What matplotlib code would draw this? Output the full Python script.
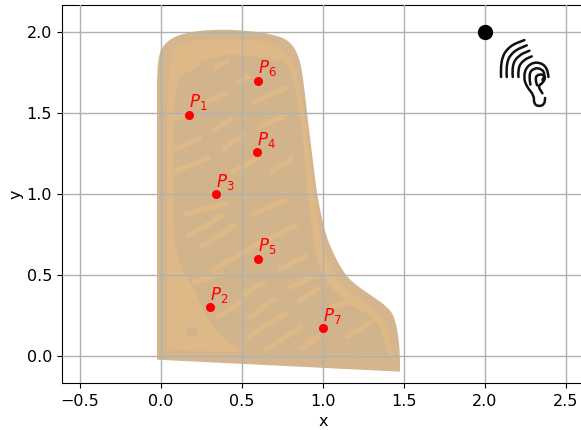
import matplotlib
matplotlib.use("Agg")
import matplotlib.pyplot as plt
from matplotlib.path import Path
from matplotlib.patches import PathPatch
from matplotlib.transforms import Affine2D

# Puntos de medida
point_names = ["P_1", "P_2", "P_3", "P_4", "P_5", "P_6", "P_7"]
point_x = [0.17, 0.30, 0.34, 0.59, 0.60, 0.60, 1.00]
point_y = [1.49, 0.30, 1.00, 1.26, 0.60, 1.70, 0.17]
source_x = [2.0]
source_y = [2.0]

# Contorno de la forma
outer_x = [1.475, 1.475, 1.47, 1.445, 1.395, 1.29, 1.185, 1.123, 1.062, 1.012, 0.969, 0.957, 0.901, 0.877, 0.85, 0.79, 0.70, 0.549, 0.321, 0.136, 0.03, -0.025, -0.025, -0.025]
outer_y = [-0.099, -0.02, 0.08, 0.235, 0.305, 0.377, 0.45, 0.519, 0.636, 0.759, 0.963, 1.043, 1.5, 1.72, 1.86, 1.95, 1.985, 2.01, 2.02, 1.995, 1.945, 1.85, 1.5, -0.025]

# Banda clara
mid_x = [0.037, 0.037, 0.037, 0.179, 0.321, 0.549, 0.735, 0.809, 0.858, 0.920, 0.969, 1.012, 1.074, 1.167, 1.321, 1.401, 1.426]
mid_y = [0.037, 1.0, 1.90, 1.945, 1.96, 1.955, 1.92, 1.825, 1.673, 1.222, 0.809, 0.623, 0.500, 0.389, 0.284, 0.191, -0.006]

# Zona interior oscura
inner_x = [1.401, 1.370, 1.302, 1.136, 0.981, 0.938, 0.901, 0.858, 0.796, 0.753, 0.444, 0.321, 0.198, 0.074, 0.074, 0.099, 0.136, 0.191, 0.259, 0.321, 0.407, 0.549]
inner_y = [0.006, 0.142, 0.247, 0.327, 0.500, 0.716, 1.025, 1.531, 1.778, 1.827, 1.870, 1.846, 1.809, 1.722, 0.765, 0.623, 0.512, 0.438, 0.284, 0.173, 0.086, 0.006]

# Rayas claras: inicio y fin
stripe_x0 = [0.321, 0.074, 0.562, 0.321, 0.241, 0.074, 0.377, 0.599, 0.074, 0.426, 0.673, 0.074, 0.469, 0.136, 0.160, 0.241, 0.549, 0.549, 0.302, 0.722, 0.191, 0.506, 0.333, 0.531, 0.784, 0.531, 0.630, 0.840, 0.901, 0.858, 1.043, 1.136]
stripe_x1 = [0.426, 0.241, 0.784, 0.444, 0.407, 0.160, 0.519, 0.778, 0.253, 0.611, 0.815, 0.302, 0.549, 0.407, 0.383, 0.457, 0.778, 0.840, 0.568, 0.901, 0.383, 0.642, 0.500, 0.704, 0.938, 0.778, 0.870, 0.981, 0.981, 0.969, 1.167, 1.302]
stripe_y0 = [1.778, 1.722, 1.568, 1.395, 1.549, 1.457, 1.272, 1.414, 1.272, 1.130, 1.136, 1.136, 1.691, 0.870, 0.735, 0.667, 0.870, 0.667, 0.519, 0.531, 0.451, 0.377, 0.235, 0.222, 0.420, 0.111, 0.025, 0.333, 0.086, 0.037, 0.302, 0.111]
stripe_y1 = [1.827, 1.815, 1.660, 1.469, 1.630, 1.500, 1.377, 1.488, 1.352, 1.228, 1.222, 1.228, 1.735, 0.944, 0.870, 0.809, 0.963, 0.809, 0.673, 0.623, 0.512, 0.457, 0.333, 0.358, 0.488, 0.265, 0.179, 0.420, 0.117, 0.111, 0.333, 0.210]

# Cuadradito oscuro abajo a la izquierda
square_x = [0.16, 0.22, 0.22, 0.16]
square_y = [0.12, 0.12, 0.18, 0.18]

# Icono de la oreja, en pixeles del icono
ear_strokes = [
    [(18, 125), (15, 75), (42, 32), (88, 14)],
    [(35, 125), (32, 82), (55, 47), (95, 30)],
    [(53, 125), (50, 90), (70, 60), (103, 46)],
    [(70, 125), (68, 98), (85, 74), (110, 63)],
    [(160, 125), (158, 95), (125, 78), (95, 92), (85, 125), (95, 155), (117, 180), (116, 205), (130, 214), (148, 208), (150, 188)],
    [(106, 148), (100, 118), (115, 98), (140, 100), (150, 118), (142, 134)],
    [(126, 150), (118, 128), (133, 115), (152, 122), (145, 142), (128, 152), (142, 174)],
]


def smooth_path(pts):
    # Curvas suaves que pasan por los puntos medios
    verts = [pts[0]]
    codes = [Path.MOVETO]
    for a, b in zip(pts[1:-1], pts[2:]):
        verts += [a, ((a[0] + b[0]) / 2, (a[1] + b[1]) / 2)]
        codes += [Path.CURVE3, Path.CURVE3]
    verts.append(pts[-1])
    codes.append(Path.LINETO)
    return Path(verts, codes)


fig = plt.figure(figsize=(5.81, 4.30), dpi=100)
ax = fig.add_axes([62.3 / 581, 46.7 / 430, 522.7 / 581, 378.3 / 430])

# La forma, por capas
ax.add_patch(PathPatch(smooth_path(list(zip(outer_x, outer_y))), fc="#D4B58D", ec="none", zorder=1))
ax.add_patch(PathPatch(smooth_path(list(zip(mid_x, mid_y))), fc="#DEB887", ec="none", zorder=1.1))
ax.add_patch(PathPatch(smooth_path(list(zip(inner_x, inner_y))), fc="#D2B48C", ec="none", zorder=1.2))
ax.fill(square_x, square_y, color="#D2B48C", lw=0, zorder=1.2)
for x0, x1, y0, y1 in zip(stripe_x0, stripe_x1, stripe_y0, stripe_y1):
    ax.plot([x0, x1], [y0, y1], color="#DEB887", lw=3.8, solid_capstyle="butt", zorder=1.3)

ax.grid(True, color="#b0b0b0", lw=1.0)
ax.set_axisbelow(False)

# Puntos y etiquetas
ax.plot(point_x, point_y, "o", color="red", ms=5.5, zorder=3)
for name, x, y in zip(point_names, point_x, point_y):
    ax.text(x, y + 0.015, "$" + name + "$", color="red", fontsize=12, va="bottom", zorder=4)
ax.plot(source_x, source_y, "o", color="black", ms=10, zorder=3)

# Icono
icon_tf = Affine2D().scale(1 / 486, -1 / 486).translate(2.062, 1.981) + ax.transData
for pts in ear_strokes:
    ax.add_patch(PathPatch(smooth_path(pts), fc="none", ec="#111111", lw=1.8, capstyle="round", transform=icon_tf, zorder=3))

ax.set_xlim(-0.610, 2.617)
ax.set_ylim(-0.171, 2.169)
ax.set_xticks([-0.5, 0.0, 0.5, 1.0, 1.5, 2.0, 2.5])
ax.set_yticks([0.0, 0.5, 1.0, 1.5, 2.0])
ax.tick_params(labelsize=11.5, pad=4)
ax.set_xlabel("x", fontsize=11.5, labelpad=4)
ax.set_ylabel("y", fontsize=11.5, labelpad=2)

fig.savefig("out.png", dpi=100)
